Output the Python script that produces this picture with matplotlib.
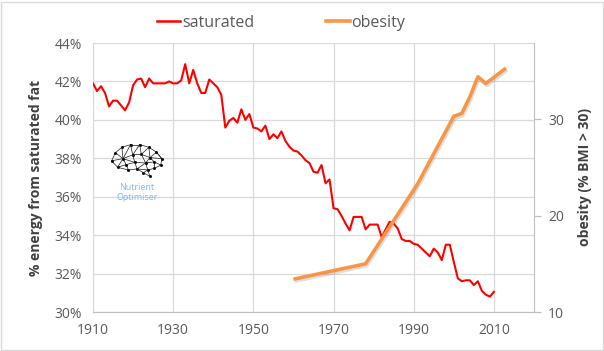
import matplotlib.pyplot as plt
import matplotlib.patheffects as pe
from matplotlib.lines import Line2D
from matplotlib.patches import Rectangle
import numpy as np

plt.rcParams['font.family'] = ['Open Sans', 'DejaVu Sans']

# saturated fat, % of energy, one value per year 1910..2010
sat_years = list(range(1910, 2011))
sat_values = [
    41.9, 41.5, 41.75, 41.4, 40.7, 41.0, 41.0, 40.75, 40.5, 40.9,
    41.8, 42.1, 42.15, 41.7, 42.15, 41.9, 41.9, 41.9, 41.9, 42.0,
    41.9, 41.9, 42.05, 42.9, 41.9, 42.6, 41.9, 41.4, 41.4, 42.1,
    41.9, 41.7, 41.3, 39.6, 39.95, 40.1, 39.85, 40.55, 40.0, 40.3,
    39.6, 39.55, 39.4, 39.7, 39.0, 39.25, 39.05, 39.4, 38.9, 38.6,
    38.4, 38.35, 38.15, 37.9, 37.75, 37.3, 37.25, 37.65, 36.7, 36.9,
    35.4, 35.35, 35.0, 34.6, 34.25, 34.95, 34.95, 34.95, 34.3, 34.55,
    34.55, 34.55, 33.9, 34.3, 34.7, 34.6, 34.35, 33.8, 33.7, 33.7,
    33.55, 33.5, 33.3, 33.1, 32.9, 33.3, 33.1, 32.7, 33.5, 33.5,
    32.6, 31.75, 31.6, 31.65, 31.65, 31.4, 31.6, 31.1, 30.9, 30.8,
    31.05,
]

# obesity, % with BMI > 30
ob_years = [1960, 1978, 1991, 2000, 2002, 2004, 2006, 2008, 2013]
ob_values = [13.4, 15.0, 23.3, 30.3, 30.6, 32.3, 34.4, 33.7, 35.3]

x_ticks = [1910, 1930, 1950, 1970, 1990, 2010]
left_ticks = [30, 32, 34, 36, 38, 40, 42, 44]
right_ticks = [10, 20, 30]

tick_col = '#595959'
grid_col = '#d9d9d9'
red = '#ff0000'
orange = '#f79646'

fig = plt.figure(figsize=(6.04, 3.51), dpi=100)
ax = fig.add_axes([93 / 604, 1 - 312 / 351, (534 - 93) / 604, (312 - 43) / 351])
ax2 = ax.twinx()

ax.plot(sat_years, sat_values, color=red, lw=1.5, zorder=3)
ax2.plot(ob_years, ob_values, color=orange, lw=2.6, solid_capstyle='butt',
         path_effects=[pe.SimpleLineShadow(offset=(0.8, -1.5), shadow_color='#808080', alpha=0.25),
                       pe.Normal()])

ax.set_xlim(1910, 2020)
ax.set_ylim(30, 44)
ax2.set_ylim(10, 37.9)

ax.set_xticks(x_ticks)
ax.set_yticks(left_ticks)
ax.set_yticklabels([f'{t}%' for t in left_ticks])
ax2.set_yticks(right_ticks)

ax.grid(True, color=grid_col, lw=0.9)
ax.set_axisbelow(True)

for a in (ax, ax2):
    for s in a.spines.values():
        s.set_visible(False)
ax.spines['bottom'].set_visible(True)
ax.spines['bottom'].set_color('#bfbfbf')
ax.spines['left'].set_visible(True)
ax.spines['left'].set_color(grid_col)
ax2.spines['right'].set_visible(True)
ax2.spines['right'].set_color('#bfbfbf')

ax.tick_params(axis='both', length=0, colors=tick_col, labelsize=10)
ax.tick_params(axis='x', pad=8)
ax.tick_params(axis='y', pad=8)
ax2.tick_params(axis='y', length=5, width=0.9, color='#bfbfbf', labelcolor=tick_col,
                labelsize=10, pad=5)

ax.set_ylabel('% energy from saturated fat', fontsize=10, fontweight='bold',
              color='#404040', labelpad=8)
ax2.set_ylabel('obesity (% BMI > 30)', fontsize=10, fontweight='bold',
               color='#404040', labelpad=10)

handles = [Line2D([], [], color=red, lw=1.8), Line2D([], [], color=orange, lw=2.6)]
fig.legend(handles=handles, labels=['saturated', 'obesity'], loc='center',
           bbox_to_anchor=(281 / 604, 1 - 23 / 351), ncol=2, frameon=False, fontsize=11.5,
           handlelength=1.5, handletextpad=0.1, columnspacing=4.5, labelcolor=tick_col)

# logo: little brain network and text
lx = fig.add_axes([110 / 604, 1 - 177 / 351, 54 / 604, 34 / 351])
lx.set_xlim(0, 10)
lx.set_ylim(0, 6.3)
lx.axis('off')
nodes = np.array([
    [0.3, 3.0], [1.0, 4.5], [2.2, 5.5], [3.8, 6.0], [5.5, 6.0], [7.2, 5.5],
    [8.6, 4.6], [9.6, 3.4], [9.4, 2.2], [8.2, 1.6], [7.0, 1.3], [7.4, 0.1],
    [5.0, 1.5], [3.4, 1.3], [1.4, 1.8], [2.4, 3.4], [4.2, 4.1], [5.8, 4.2],
    [7.4, 3.6], [4.6, 2.7], [6.6, 2.6], [3.0, 2.3], [8.2, 2.8], [6.2, 0.8],
])
edges = [(0, 1), (1, 2), (2, 3), (3, 4), (4, 5), (5, 6), (6, 7), (7, 8), (8, 9), (9, 10),
         (10, 11), (10, 12), (12, 13), (13, 14), (14, 0), (1, 15), (2, 15), (15, 16), (3, 16),
         (4, 16), (4, 17), (5, 17), (16, 17), (17, 18), (5, 18), (6, 18), (7, 18), (18, 22),
         (22, 8), (22, 9), (22, 20), (20, 10), (18, 20), (17, 20), (16, 19), (19, 20),
         (19, 12), (21, 19), (21, 13), (21, 14), (21, 15), (0, 15), (15, 19), (14, 15),
         (12, 20), (3, 15), (6, 7), (10, 23), (23, 11), (12, 23)]
for a_, b_ in edges:
    lx.plot(nodes[[a_, b_], 0], nodes[[a_, b_], 1], color='#1a1a1a', lw=0.5)
lx.plot(nodes[:, 0], nodes[:, 1], 'o', color='#111111', ms=1.2)
fig.text(137 / 604, 1 - 188 / 351, 'Nutrient', color='#7fb6e6', fontsize=6.5,
         ha='center', va='center')
fig.text(137 / 604, 1 - 197 / 351, 'Optimiser', color='#7fb6e6', fontsize=6.5,
         ha='center', va='center')

fig.patches.append(Rectangle((1 / 604, 1 / 351), 602 / 604, 348 / 351, transform=fig.transFigure,
                             fill=False, edgecolor='#d9d9d9', lw=1.0))

fig.savefig('out.png', dpi=100)
